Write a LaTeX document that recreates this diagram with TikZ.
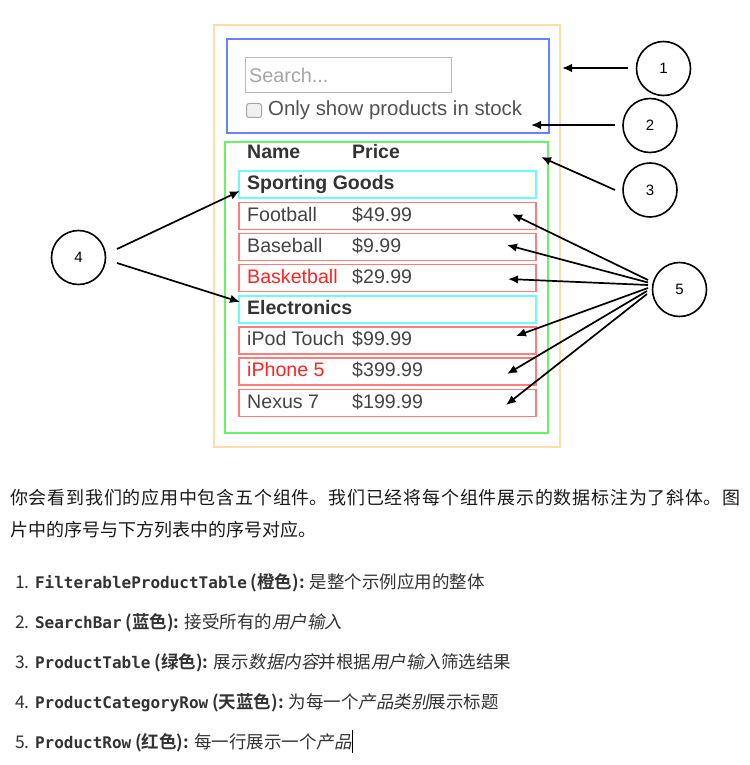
\documentclass[tikz,border=0pt]{standalone}
\usepackage{fontspec}
\usetikzlibrary{arrows.meta}
\setmainfont{Liberation Sans}
\newfontfamily\cjk{Noto Sans CJK SC}[BoldFont={Noto Sans CJK SC Bold}]
\newfontfamily\cjkit{Noto Sans CJK SC}[FakeSlant=0.2]
\newfontfamily\mono{DejaVu Sans Mono}
\XeTeXlinebreaklocale "zh"
\XeTeXlinebreakskip=0pt plus 2pt
\definecolor{orangeb}{HTML}{FFDDA8}
\definecolor{blueb}{HTML}{6482FF}
\definecolor{greenb}{HTML}{66F566}
\definecolor{cyanb}{HTML}{6CFAFA}
\definecolor{redb}{HTML}{FF7C7C}
\definecolor{txt}{HTML}{444444}
\definecolor{hdr}{HTML}{333333}
\definecolor{redt}{HTML}{FF2424}
\newcommand{\myital}[1]{{\cjkit #1}}
\begin{document}
\begin{tikzpicture}[x=1pt,y=-1pt,
  box/.style={draw=#1, line width=1.8pt, anchor=north west, inner sep=0pt},
  rowbox/.style={draw=redb, line width=1.6pt, anchor=north west, inner sep=0pt, minimum width=297pt, minimum height=27pt},
  catbox/.style={draw=cyanb, line width=1.8pt, anchor=north west, inner sep=0pt, minimum width=297pt, minimum height=27pt},
  uitext/.style={anchor=base west, inner sep=0pt, font=\fontsize{19.6}{22}\selectfont, text=txt},
  hdrtext/.style={anchor=base west, inner sep=0pt, font=\fontsize{19.5}{22}\selectfont\bfseries, text=hdr},
  num/.style={circle, draw=black, line width=1.6pt, minimum size=54pt, inner sep=0pt, font=\fontsize{15}{18}\selectfont},
  pointer/.style={line width=1.7pt, -{Latex[length=10pt,width=8.5pt]}},
  listline/.style={anchor=base west, inner sep=0pt, text=hdr, font=\cjk\fontsize{17.5}{20}\selectfont}
]
\useasboundingbox (0,0) rectangle (749,765);
\fill[white] (0,0) rectangle (749,765);

% containers
\node[box=orangeb, minimum width=346pt, minimum height=422pt] (fpt) at (213,24) {};
\node[box=blueb, minimum width=322pt, minimum height=94pt] (sb) at (226,38) {};
\node[box=greenb, minimum width=323pt, minimum height=291pt] (pt) at (224,141) {};

% search bar content
\node[draw=black!28, line width=1.4pt, anchor=north west, inner sep=0pt, minimum width=206pt, minimum height=35pt] (search) at (245,57) {};
\node[uitext, text=black!35, font=\fontsize{19.8}{22}\selectfont] (searchtxt) at (249,83) {Search...};
\node[draw=black!35, fill=black!6, line width=1pt, rounded corners=2.5pt, anchor=north west, minimum width=15pt, minimum height=14pt, inner sep=0pt] (chk) at (246,103) {};
\node[uitext, text=black!68, font=\fontsize{20.4}{22}\selectfont] (stock) at (268,115.5) {Only show products in stock};

% header
\node[hdrtext] (hname) at (247,158.3) {Name};
\node[hdrtext] (hprice) at (352,158.3) {Price};

% rows
\node[catbox] (r0) at (238,170) {};
\node[hdrtext] (r0n) at (247,189.3) {Sporting Goods};
\node[rowbox] (r1) at (238,201.5) {};
\node[uitext] (r1n) at (247,221.3) {Football};
\node[uitext] (r1p) at (352,221.3) {\$49.99};
\node[rowbox] (r2) at (238,232.5) {};
\node[uitext] (r2n) at (247,252.2) {Baseball};
\node[uitext] (r2p) at (352,252.2) {\$9.99};
\node[rowbox] (r3) at (238,263.5) {};
\node[uitext, text=redt] (r3n) at (247,283.3) {Basketball};
\node[uitext] (r3p) at (352,283.3) {\$29.99};
\node[catbox] (r4) at (238,295) {};
\node[hdrtext] (r4n) at (247,314.3) {Electronics};
\node[rowbox] (r5) at (238,326) {};
\node[uitext] (r5n) at (247,345.3) {iPod Touch};
\node[uitext] (r5p) at (352,345.3) {\$99.99};
\node[rowbox] (r6) at (238,357) {};
\node[uitext, text=redt] (r6n) at (247,376.7) {iPhone 5};
\node[uitext] (r6p) at (352,376.7) {\$399.99};
\node[rowbox] (r7) at (238,388.5) {};
\node[uitext] (r7n) at (247,408.3) {Nexus 7};
\node[uitext] (r7p) at (352,408.3) {\$199.99};

% numbered circles
\node[num] (c1) at (663.5,68.5) {1};
\node[num] (c2) at (650,125.5) {2};
\node[num] (c3) at (650,190) {3};
\node[num] (c4) at (78.5,257.5) {4};
\node[num] (c5) at (679.5,289.5) {5};

% arrow end points
\coordinate (s1) at (628,68);   \coordinate (t1) at (562,68);
\coordinate (s2) at (615,125);  \coordinate (t2) at (531,125);
\coordinate (s3) at (615,190);  \coordinate (t3) at (541,157);
\coordinate (s4a) at (117,249); \coordinate (t4a) at (240,191);
\coordinate (s4b) at (117,263); \coordinate (t4b) at (240,302);
\coordinate (s5a) at (648,280); \coordinate (t5a) at (512,214);
\coordinate (s5b) at (648,282.5); \coordinate (t5b) at (507,245);
\coordinate (s5c) at (648,285); \coordinate (t5c) at (508,279);
\coordinate (s5d) at (648,288); \coordinate (t5d) at (516,336);
\coordinate (s5e) at (647,291); \coordinate (t5e) at (507,374);
\coordinate (s5f) at (647,294); \coordinate (t5f) at (506,405);

\draw[pointer] (s1) -- (t1);
\draw[pointer] (s2) -- (t2);
\draw[pointer] (s3) -- (t3);
\draw[pointer] (s4a) -- (t4a);
\draw[pointer] (s4b) -- (t4b);
\draw[pointer] (s5a) -- (t5a);
\draw[pointer] (s5b) -- (t5b);
\draw[pointer] (s5c) -- (t5c);
\draw[pointer] (s5d) -- (t5d);
\draw[pointer] (s5e) -- (t5e);
\draw[pointer] (s5f) -- (t5f);

% paragraph
\node[anchor=north west, inner sep=0pt, text width=730pt, align=justify, text=black!90,
  font=\cjk\fontsize{18}{32}\selectfont] (para) at (10,489)
  {你会看到我们的应用中包含五个组件。我们已经将每个组件展示的数据标注为了斜体。图\linebreak
   片中的序号与下方列表中的序号对应。};

% list
\node[listline] (l1) at (15,588) {1. {\mono\bfseries\fontsize{16}{20}\selectfont FilterableProductTable} {\bfseries (橙色):} 是整个示例应用的整体};
\node[listline] (l2) at (15,628) {2. {\mono\bfseries\fontsize{16}{20}\selectfont SearchBar} {\bfseries (蓝色):} 接受所有的\myital{用户输入}};
\node[listline] (l3) at (15,668) {3. {\mono\bfseries\fontsize{16}{20}\selectfont ProductTable} {\bfseries (绿色):} 展示\myital{数据内容}并根据\myital{用户输入}筛选结果};
\node[listline] (l4) at (15,708) {4. {\mono\bfseries\fontsize{16}{20}\selectfont ProductCategoryRow} {\bfseries (天蓝色):} 为每一个\myital{产品类别}展示标题};
\node[listline] (l5) at (15,748) {5. {\mono\bfseries\fontsize{16}{20}\selectfont ProductRow} {\bfseries (红色):} 每一行展示一个\myital{产品}};
\draw[line width=0.9pt] (l5.east |- 0,730) coordinate (caretTop) -- (l5.east |- 0,753) coordinate (caretBot);
\end{tikzpicture}
\end{document}
